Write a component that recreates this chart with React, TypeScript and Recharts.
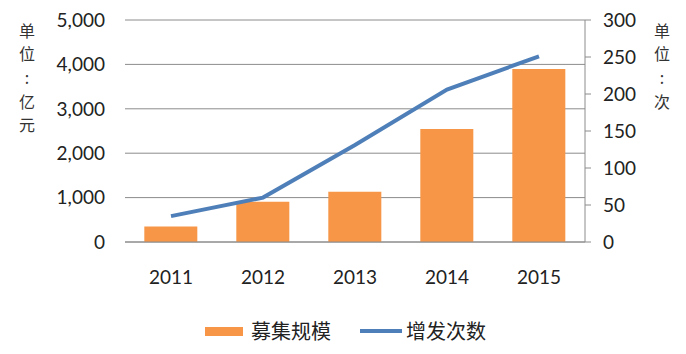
import React from 'react'
import {
  ComposedChart,
  Bar,
  Line,
  XAxis,
  YAxis,
  CartesianGrid,
  Legend,
  Label,
} from 'recharts'

const YEARS = ['2011', '2012', '2013', '2014', '2015']
const RAISED = [350, 905, 1130, 2545, 3895] // 募集规模, 亿元
const ISSUES = [35, 60, 131, 206, 251] // 增发次数, 次

const LEFT_TICKS = [0, 1000, 2000, 3000, 4000, 5000]
const RIGHT_TICKS = [0, 50, 100, 150, 200, 250, 300]

const ORANGE = '#F79646'
const BLUE = '#4F7FB8'
const GRID = '#8C8C8C'
const FONT = 'Lato, "Noto Sans CJK SC", sans-serif'
const CJK = '"Noto Sans CJK SC", sans-serif'

const data = YEARS.map((year, i) => ({
  year,
  raised: RAISED[i],
  issues: ISSUES[i],
}))

const fmt = (v: number) => v.toLocaleString('en-US')

// per-character vertical steps for the stacked unit labels
const STEPS = [0, 23, 24, 24, 23]

function VerticalLabel({ chars, x, y }: { chars: string[]; x: number; y: number }) {
  return (
    <text x={x} y={y} textAnchor="middle" fill="#333" fontSize={16} fontFamily={CJK}>
      {chars.map((c, i) => (
        <tspan key={i} x={x} dy={STEPS[i]}>
          {c}
        </tspan>
      ))}
    </text>
  )
}

function ChartLegend() {
  return (
    <div
      style={{
        height: 30,
        position: 'relative',
        fontFamily: CJK,
        fontSize: 20,
        color: '#222',
      }}
    >
      <div style={{ position: 'absolute', left: 205, top: 11, width: 38, height: 9, background: ORANGE }} />
      <div style={{ position: 'absolute', left: 251, top: 0, lineHeight: '30px' }}>募集规模</div>
      <div style={{ position: 'absolute', left: 360, top: 13, width: 42, height: 4, background: BLUE }} />
      <div style={{ position: 'absolute', left: 406, top: 0, lineHeight: '30px' }}>增发次数</div>
    </div>
  )
}

export default function App() {
  return (
    <div style={{ position: 'absolute', left: 0, top: 0, width: 686, height: 354, background: '#fff' }}>
      <ComposedChart
        width={686}
        height={354}
        data={data}
        margin={{ top: 20, right: 0, bottom: 8, left: 0 }}
        barCategoryGap="21%"
      >
        <CartesianGrid vertical={false} stroke={GRID} yAxisId="left" />
        <XAxis
          dataKey="year"
          axisLine={{ stroke: GRID }}
          tickLine={false}
          tickSize={0}
          tickMargin={29}
          height={74}
          tick={{ fill: '#222', fontSize: 19, fontFamily: FONT }}
        />
        <YAxis
          yAxisId="left"
          width={125}
          domain={[0, 5000]}
          ticks={LEFT_TICKS}
          tickFormatter={fmt}
          axisLine={false}
          tickLine={false}
          tickSize={0}
          tickMargin={20}
          tick={{ fill: '#222', fontSize: 19, fontFamily: FONT }}
        >
          <Label content={() => <VerticalLabel chars={['单', '位', ':', '亿', '元']} x={27} y={37} />} />
        </YAxis>
        <YAxis
          yAxisId="right"
          orientation="right"
          width={101}
          domain={[0, 300]}
          ticks={RIGHT_TICKS}
          axisLine={{ stroke: GRID }}
          tickLine={{ stroke: GRID }}
          tickSize={6}
          tickMargin={12}
          tick={{ fill: '#222', fontSize: 19, fontFamily: FONT, textAnchor: 'start' }}
        >
          <Label content={() => <VerticalLabel chars={['单', '位', ':', '次']} x={662} y={37} />} />
        </YAxis>
        <Bar yAxisId="left" dataKey="raised" name="募集规模" fill={ORANGE} isAnimationActive={false} />
        <Line
          yAxisId="right"
          dataKey="issues"
          name="增发次数"
          stroke={BLUE}
          strokeWidth={4}
          dot={false}
          activeDot={false}
          type="linear"
          isAnimationActive={false}
        />
        <Legend verticalAlign="bottom" align="left" content={() => <ChartLegend />} wrapperStyle={{ width: 686, left: 0 }} />
      </ComposedChart>
    </div>
  )
}
